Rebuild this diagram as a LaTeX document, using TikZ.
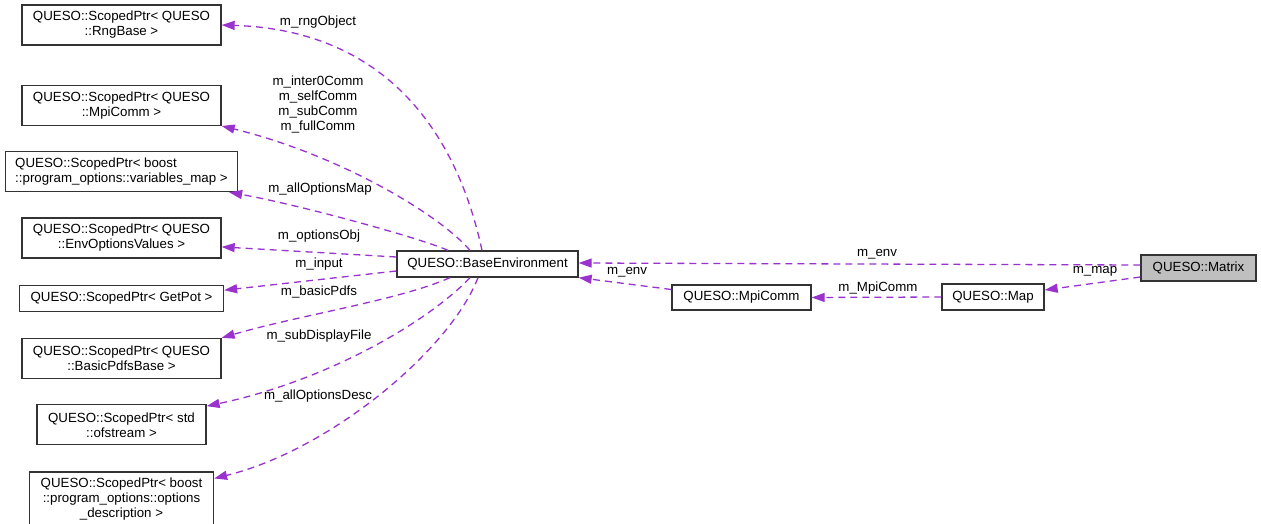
\documentclass[tikz,border=0pt]{standalone}
\usepackage{fontspec}
\setmainfont{Liberation Sans}
\usetikzlibrary{arrows.meta,positioning}
\definecolor{linkpurple}{RGB}{154,50,205}
\newcommand{\diafont}{\fontsize{13.3}{15}\selectfont}
\tikzset{
  block/.style={rectangle, draw=black!80, line width=1.3pt, fill=white, inner sep=0pt,
                minimum height=26pt, align=center, font=\diafont},
  blockgray/.style={block, fill=gray!50},
  arrowpurple/.style={-{Triangle[length=13pt,width=9pt]}, line width=1.3pt, linkpurple,
                      dash pattern=on 7pt off 5pt},
  linklabel/.style={font=\diafont, align=center, inner sep=0pt},
}

\begin{document}
\begin{tikzpicture}[x=1pt, y=-1pt, node distance=25pt]
\useasboundingbox (0,0) rectangle (1261,524);

% pointer members, left column
\node[block, minimum width=199pt, minimum height=40pt] (rng) at (121.5,25) {QUESO::ScopedPtr< QUESO\\::RngBase >};
\node[block, minimum width=199pt, minimum height=40pt, below=39pt of rng] (mpiptr) {QUESO::ScopedPtr< QUESO\\::MpiComm >};
\node[block, minimum width=232pt, minimum height=40pt, align=left, below=of mpiptr] (varmap) {QUESO::ScopedPtr< boost\\::program\_options::variables\_map >};
\node[block, minimum width=199pt, minimum height=40pt, below=of varmap] (envopt) {QUESO::ScopedPtr< QUESO\\::EnvOptionsValues >};
\node[block, minimum width=204pt, below=26pt of envopt] (getpot) {QUESO::ScopedPtr< GetPot >};
\node[block, minimum width=199pt, minimum height=40pt, below=26pt of getpot] (pdfs) {QUESO::ScopedPtr< QUESO\\::BasicPdfsBase >};
\node[block, minimum width=169pt, minimum height=40pt, below=of pdfs] (ofstream) {QUESO::ScopedPtr< std\\::ofstream >};
\node[block, minimum width=184pt, minimum height=54pt, below=26pt of ofstream] (optdesc) {QUESO::ScopedPtr< boost\\::program\_options::options\\\_description >};

% classes
\node[block, minimum width=181pt] (baseenv) at (487.5,264) {QUESO::BaseEnvironment};
\node[block, minimum width=139pt, minimum height=25pt] (mpicomm) at (741.5,297.5) {QUESO::MpiComm};
\node[block, minimum width=102pt] (map) at (993,297) {QUESO::Map};
\node[blockgray, minimum width=115pt] (matrix) at (1198.5,268) {QUESO::Matrix};

% usage links
\draw[arrowpurple] ([xshift=-5.5pt]baseenv.north) .. controls (455,125) and (380,30) .. (rng.east);
\draw[arrowpurple] ([xshift=-17.5pt]baseenv.north) .. controls (440,215) and (340,155) .. (mpiptr.south east);
\draw[arrowpurple] ([xshift=-39.5pt]baseenv.north) .. controls (420,238) and (300,205) .. ([xshift=-9pt]varmap.south east);
\draw[arrowpurple] ([yshift=7pt]baseenv.west) -- ([yshift=-9pt]envopt.east);
\draw[arrowpurple] ([yshift=-7pt]baseenv.west) -- ([yshift=8pt]getpot.east);
\draw[arrowpurple] ([xshift=-37.5pt]baseenv.south) .. controls (400,300) and (300,315) .. (pdfs.north east);
\draw[arrowpurple] ([xshift=-17.5pt]baseenv.south) .. controls (430,320) and (330,380) .. ([yshift=-2pt]ofstream.north east);
\draw[arrowpurple] ([xshift=-9.5pt]baseenv.south) .. controls (450,350) and (330,450) .. ([yshift=-7pt]optdesc.north east);

\draw[arrowpurple] ([yshift=3pt]matrix.west) -- ([yshift=1pt]baseenv.east);
\draw[arrowpurple] ([yshift=-9pt]matrix.west) -- ([yshift=7pt]map.east);
\draw[arrowpurple] (map.west) -- (mpicomm.east);
\draw[arrowpurple] ([yshift=8pt]mpicomm.west) -- (baseenv.south east);

% member names
\node[linklabel] (lrng) at (318,22) {m\_rngObject};
\node[linklabel] (lcomm) at (318,105) {m\_inter0Comm\\m\_selfComm\\m\_subComm\\m\_fullComm};
\node[linklabel] (lvarmap) at (320,189) {m\_allOptionsMap};
\node[linklabel] (lopt) at (319,236) {m\_optionsObj};
\node[linklabel] (linput) at (319,264) {m\_input};
\node[linklabel] (lpdfs) at (319,292) {m\_basicPdfs};
\node[linklabel] (lfile) at (319,336) {m\_subDisplayFile};
\node[linklabel] (ldesc) at (318,396) {m\_allOptionsDesc};
\node[linklabel] (lenv) at (877,254) {m\_env};
\node[linklabel] (lmap) at (1095,271) {m\_map};
\node[linklabel] (lmpi) at (878,288) {m\_MpiComm};
\node[linklabel] (lenvb) at (627,272) {m\_env};
\end{tikzpicture}
\end{document}
